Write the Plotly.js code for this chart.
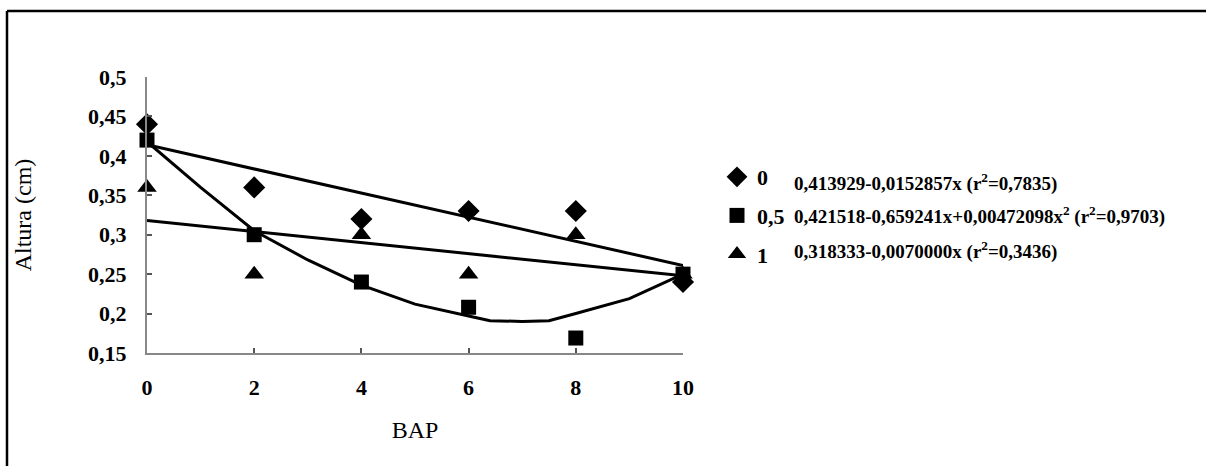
<!DOCTYPE html>
<html>
<head>
<meta charset="utf-8">
<script src="https://cdn.plot.ly/plotly-3.0.1.min.js"></script>
<style>html,body{margin:0;padding:0;background:#fff;}#chart{width:1206px;height:466px;}</style>
</head>
<body>
<div id="chart"></div>
<script>
// ---- data ----
const bap = [0, 2, 4, 6, 8, 10];
const seriesNames = ["0", "0,5", "1"];
const altura0 = [0.44, 0.36, 0.32, 0.33, 0.33, 0.24];
const altura05 = [0.42, 0.30, 0.24, 0.208, 0.169, 0.25];
const altura1 = [0.36, 0.25, 0.30, 0.25, 0.30, 0.25];

// fitted curves as drawn in the figure
const fit0X = [0, 10];
const fit0Y = [0.414, 0.261];
const fit1X = [0, 10];
const fit1Y = [0.318, 0.248];
const fit05X = [0, 1, 2, 3, 4, 5, 6, 6.4, 7, 7.5, 8, 9, 10];
const fit05Y = [0.418, 0.36, 0.305, 0.268, 0.236, 0.212, 0.197, 0.191, 0.19, 0.191, 0.2, 0.219, 0.25];

const equations = [
  "0,413929-0,0152857x (r<sup>2</sup>=0,7835)",
  "0,421518-0,659241x+0,00472098x<sup>2</sup> (r<sup>2</sup>=0,9703)",
  "0,318333-0,0070000x (r<sup>2</sup>=0,3436)"
];
const tickVals = [0.15, 0.2, 0.25, 0.3, 0.35, 0.4, 0.45, 0.5];
const xTicks = [0, 2, 4, 6, 8, 10];

// ---- chart ----
const serif = "Liberation Serif";
const lineStyle = {color: "#000", width: 3};

const traces = [
  {x: fit0X, y: fit0Y, mode: "lines", line: lineStyle, showlegend: false, hoverinfo: "skip", cliponaxis: false},
  {x: fit1X, y: fit1Y, mode: "lines", line: lineStyle, showlegend: false, hoverinfo: "skip", cliponaxis: false},
  {x: fit05X, y: fit05Y, mode: "lines", line: lineStyle, showlegend: false, hoverinfo: "skip", cliponaxis: false},
  {x: bap, y: altura0, name: seriesNames[0], legendgroup: "a", mode: "markers", cliponaxis: false,
   marker: {symbol: "diamond", size: 17, color: "#000"}},
  {x: bap, y: altura05, name: seriesNames[1], legendgroup: "b", mode: "markers", cliponaxis: false,
   marker: {symbol: "square", size: 15, color: "#000"}},
  {x: bap, y: altura1, name: seriesNames[2], legendgroup: "c", mode: "markers", cliponaxis: false,
   marker: {symbol: "triangle-up", size: 17, color: "#000"}}
];

const W = 536, H = 276; // plot area size in px
const px = v => (v - 147) / W;
const py = v => (353 - v) / H;

const layout = {
  width: 1206, height: 466,
  margin: {l: 147, r: 523, t: 77, b: 113, pad: 0},
  paper_bgcolor: "#fff", plot_bgcolor: "#fff",
  separators: ", ",
  showlegend: true,
  font: {family: serif, color: "#000"},
  xaxis: {
    range: [0, 10], tickvals: xTicks, ticks: "inside", ticklen: 5, tickwidth: 2, tickcolor: "#555",
    showline: true, linecolor: "#888", linewidth: 2, showgrid: false, zeroline: false,
    tickfont: {family: serif, size: 22, weight: "bold", color: "#000"}, ticklabelstandoff: 14,
    title: {text: "BAP", font: {family: serif, size: 24, color: "#000"}, standoff: 22},
    automargin: false, fixedrange: true
  },
  yaxis: {
    range: [0.15, 0.5], tickvals: tickVals, ticks: "inside", ticklen: 5, tickwidth: 2, tickcolor: "#555",
    showline: true, linecolor: "#888", linewidth: 2, showgrid: false, zeroline: false,
    tickfont: {family: serif, size: 22, weight: "bold", color: "#000"}, ticklabelstandoff: 14,
    title: {text: "Altura (cm)", font: {family: serif, size: 24, color: "#000"}, standoff: 50},
    automargin: false, fixedrange: true
  },
  legend: {
    x: px(717), y: py(156), xanchor: "left", yanchor: "top",
    font: {family: serif, size: 22, weight: "bold", color: "#000"},
    tracegroupgap: 7, itemwidth: 30, bgcolor: "rgba(0,0,0,0)", borderwidth: 0
  },
  annotations: equations.map((t, i) => ({
    text: t, xref: "paper", yref: "paper", x: px(792), y: py([182, 215, 250][i]),
    xanchor: "left", yanchor: "middle", showarrow: false,
    font: {family: serif, size: 19, weight: "bold", color: "#000"}
  })),
  shapes: [
    {type: "line", xref: "paper", yref: "paper", x0: px(7), x1: px(7), y0: py(11), y1: py(466), line: {color: "#000", width: 2.5}},
    {type: "line", xref: "paper", yref: "paper", x0: px(7), x1: px(1206), y0: py(11), y1: py(11), line: {color: "#000", width: 2.5}}
  ]
};

Plotly.newPlot("chart", traces, layout, {staticPlot: true, displayModeBar: false});
</script>
</body>
</html>
